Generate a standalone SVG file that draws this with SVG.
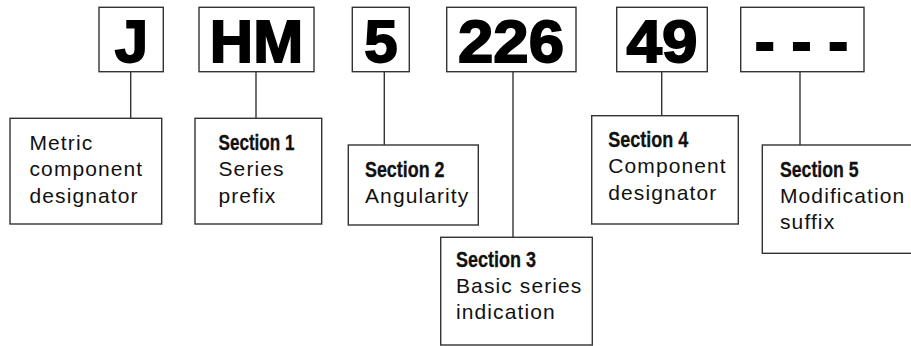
<svg xmlns="http://www.w3.org/2000/svg" width="911" height="346" viewBox="0 0 911 346">
<style>
.box{fill:#fff;stroke:#333;stroke-width:1.4}
.big{font-family:"Liberation Sans",Arial,sans-serif;font-weight:bold;font-size:60px;fill:#000;stroke:#000;stroke-width:1.8;text-anchor:middle}
.t{font-family:"Liberation Sans",Arial,sans-serif;font-size:21px;letter-spacing:1.1px;fill:#111}
.h{font-family:"Liberation Sans",Arial,sans-serif;font-weight:bold;font-size:21.5px;fill:#111;stroke:#111;stroke-width:0.3}
.con line{stroke:#333;stroke-width:1.4}
</style>
<rect width="911" height="346" fill="#fff"/>
<g class="con" id="connectors">
<line x1="130.7" y1="72" x2="130.7" y2="118"/>
<line x1="256" y1="72" x2="256" y2="118"/>
<line x1="384.3" y1="72" x2="384.3" y2="145"/>
<line x1="513" y1="72" x2="513" y2="237"/>
<line x1="661.7" y1="72" x2="661.7" y2="116"/>
<line x1="800" y1="72" x2="800" y2="145"/>
</g>
<g id="code-J"><rect class="box" x="99" y="7.3" width="64.3" height="64.4"/><text class="big" x="131.5" y="62">J</text></g>
<g id="code-HM"><rect class="box" x="199" y="7.3" width="115" height="64.4"/><text class="big" x="256.5" y="62">HM</text></g>
<g id="code-5"><rect class="box" x="352.3" y="7.3" width="57" height="64.4"/><text class="big" x="381" y="62">5</text></g>
<g id="code-226"><rect class="box" x="446.7" y="7.3" width="129.3" height="64.4"/><text class="big" x="511" y="62" textLength="106" lengthAdjust="spacingAndGlyphs">226</text></g>
<g id="code-49"><rect class="box" x="616.7" y="7.3" width="90.6" height="64.4"/><text class="big" x="662" y="62" textLength="71" lengthAdjust="spacingAndGlyphs">49</text></g>
<g id="code-dash"><rect class="box" x="740.7" y="7.3" width="123.3" height="64.4"/><text class="big" x="801.5" y="62">- - -</text></g>

<g id="metric"><rect class="box" x="10" y="118.3" width="151.7" height="105.7"/>
<text class="t" x="29.5" y="150">Metric</text><text class="t" x="29.5" y="176.3">component</text><text class="t" x="29.5" y="202.5">designator</text></g>
<g id="section1"><rect class="box" x="195" y="118.3" width="126.7" height="105.7"/>
<text class="h" x="218.5" y="150" textLength="76" lengthAdjust="spacingAndGlyphs">Section 1</text><text class="t" x="218.5" y="176.3">Series</text><text class="t" x="218.5" y="202.5">prefix</text></g>
<g id="section2"><rect class="box" x="348.3" y="145" width="130" height="80"/>
<text class="h" x="365" y="176.7" textLength="79.5" lengthAdjust="spacingAndGlyphs">Section 2</text><text class="t" x="365" y="203.3">Angularity</text></g>
<g id="section3"><rect class="box" x="440.7" y="237.3" width="151.6" height="107.7"/>
<text class="h" x="456" y="266.7" textLength="80" lengthAdjust="spacingAndGlyphs">Section 3</text><text class="t" x="456" y="293.3">Basic series</text><text class="t" x="456" y="319.3">indication</text></g>
<g id="section4"><rect class="box" x="591.7" y="115.7" width="146.6" height="108.3"/>
<text class="h" x="608.3" y="146.7" textLength="80" lengthAdjust="spacingAndGlyphs">Section 4</text><text class="t" x="608.3" y="173.3">Component</text><text class="t" x="608.3" y="200">designator</text></g>
<g id="section5"><rect class="box" x="762.3" y="145" width="170" height="108.3"/>
<text class="h" x="780" y="176.7" textLength="78.5" lengthAdjust="spacingAndGlyphs">Section 5</text><text class="t" x="780" y="203.3">Modification</text><text class="t" x="780" y="229.3">suffix</text></g>
</svg>
